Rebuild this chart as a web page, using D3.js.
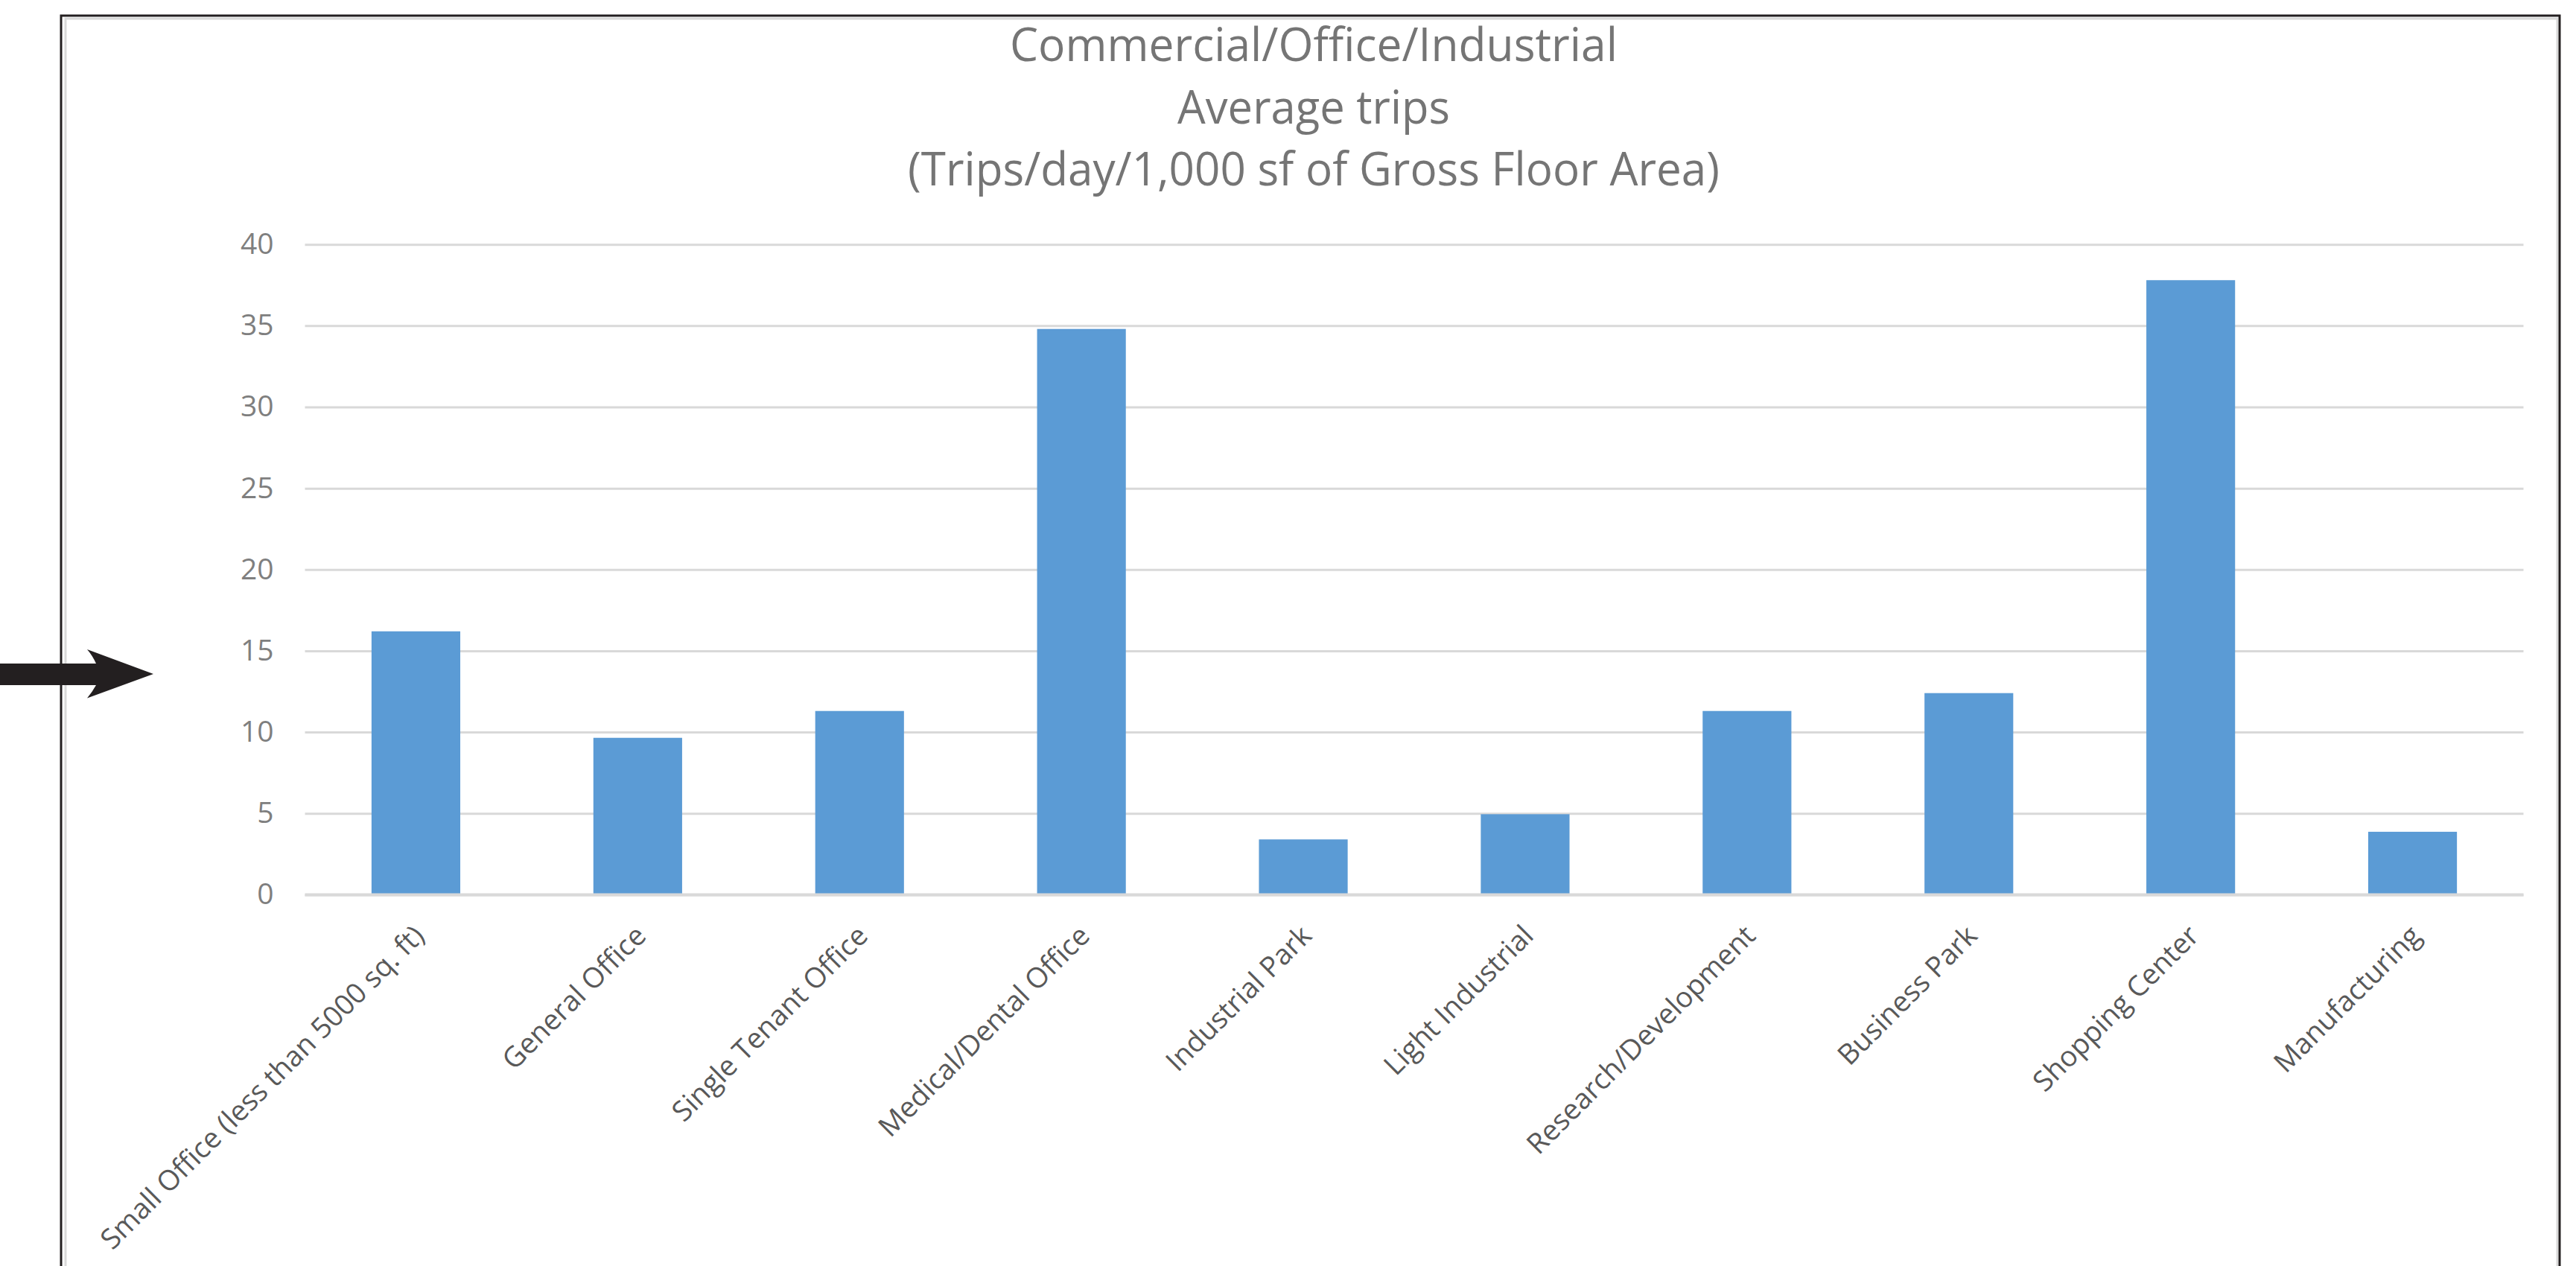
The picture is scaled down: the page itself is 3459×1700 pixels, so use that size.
<!DOCTYPE html>
<html>
<head>
<meta charset="utf-8">
<script src="https://cdn.jsdelivr.net/npm/d3@7"></script>
<style>
  html, body { margin: 0; padding: 0; background: #fff; }
  svg { display: block; }
</style>
</head>
<body>
<svg id="chart"></svg>
<script>
// Data
const categories = [
  "Small Office (less than 5000 sq. ft)",
  "General Office",
  "Single Tenant Office",
  "Medical/Dental Office",
  "Industrial Park",
  "Light Industrial",
  "Research/Development",
  "Business Park",
  "Shopping Center",
  "Manufacturing"
];
const avgTrips = [16.2, 9.65, 11.3, 34.8, 3.4, 4.95, 11.3, 12.4, 37.8, 3.87];
const yTicks = [0, 5, 10, 15, 20, 25, 30, 35, 40];
const titleLines = [
  "Commercial/Office/Industrial",
  "Average trips",
  "(Trips/day/1,000 sf of Gross Floor Area)"
];

// Canvas
const W = 3459, H = 1700;
const plot = { left: 409.5, right: 3388.5, top: 328.2, bottom: 1201.4 };

const svg = d3.select("#chart")
  .attr("width", W)
  .attr("height", H);

// Frame around the chart (outer dark line, inner light chart border)
svg.append("rect")
  .attr("x", 88).attr("y", 25)
  .attr("width", 3434 - 88).attr("height", H)
  .attr("fill", "#fff")
  .attr("stroke", "#d9d9d9")
  .attr("stroke-width", 3);

svg.append("rect")
  .attr("x", 82).attr("y", 21)
  .attr("width", 3437 - 82).attr("height", H)
  .attr("fill", "none")
  .attr("stroke", "#231f20")
  .attr("stroke-width", 3);

// Scales
const x = d3.scaleBand()
  .domain(categories)
  .range([plot.left, plot.right])
  .paddingInner(0.6)
  .paddingOuter(0.3);

const y = d3.scaleLinear()
  .domain([0, 40])
  .range([plot.bottom, plot.top]);

// Gridlines + y labels
const yAxis = svg.append("g")
  .attr("transform", `translate(${plot.left},0)`)
  .call(d3.axisLeft(y)
    .tickValues(yTicks)
    .tickSize(-(plot.right - plot.left))
    .tickPadding(42));

yAxis.select(".domain").remove();
yAxis.selectAll(".tick line")
  .attr("stroke", "#d9d9d9")
  .attr("stroke-width", 3);
yAxis.selectAll(".tick text")
  .attr("fill", "#7f7f7f")
  .style("font-family", "'Open Sans', sans-serif")
  .style("font-size", "39px");

// Bars
svg.append("g")
  .selectAll("rect")
  .data(categories)
  .join("rect")
  .attr("x", d => x(d))
  .attr("width", x.bandwidth())
  .attr("y", (d, i) => y(avgTrips[i]))
  .attr("height", (d, i) => y(0) - y(avgTrips[i]))
  .attr("fill", "#5b9bd5");

// X axis line
svg.append("line")
  .attr("x1", plot.left).attr("x2", plot.right)
  .attr("y1", y(0)).attr("y2", y(0))
  .attr("stroke", "#d9d9d9")
  .attr("stroke-width", 4);

// Rotated category labels
svg.append("g")
  .selectAll("text")
  .data(categories)
  .join("text")
  .attr("transform", d => `translate(${x(d) + x.bandwidth() / 2 + 4}, ${plot.bottom + 48}) rotate(-45)`)
  .attr("text-anchor", "end")
  .attr("dy", "0.35em")
  .attr("fill", "#595959")
  .style("font-family", "'Open Sans', sans-serif")
  .style("font-size", "38px")
  .text(d => d);

// Title
const titleWidths = [816, 366, 1090];
const titleBase = [82, 166, 249];
svg.append("g")
  .selectAll("text")
  .data(titleLines)
  .join("text")
  .attr("x", 1764)
  .attr("y", (d, i) => titleBase[i])
  .attr("text-anchor", "middle")
  .attr("fill", "#757575")
  .attr("textLength", (d, i) => titleWidths[i])
  .attr("lengthAdjust", "spacingAndGlyphs")
  .style("font-family", "'Open Sans', sans-serif")
  .style("font-size", "62px")
  .text(d => d);

// Arrow pointing at the chart (annotation)
svg.append("path")
  .attr("d", "M0,891 L129,891 Q124,880 117,872 L206,905 L117,937.5 Q124,929 129,920 L0,920 Z")
  .attr("fill", "#231f20");
</script>
</body>
</html>
